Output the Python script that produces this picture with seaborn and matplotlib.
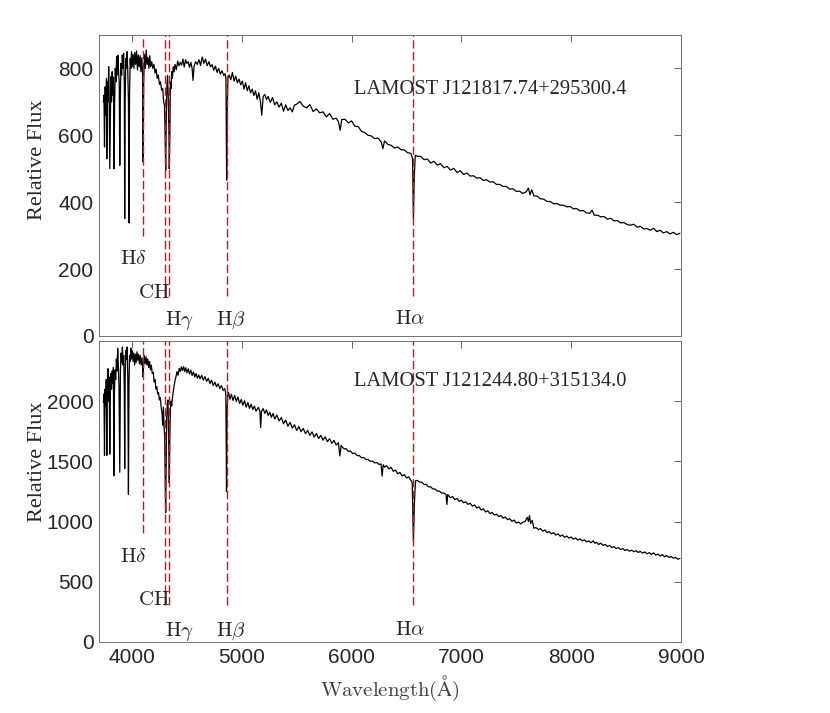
import matplotlib
matplotlib.use("Agg")
import matplotlib.pyplot as plt
import numpy as np
import pandas as pd
import seaborn as sns

# upper spectrum: LAMOST J121817.74+295300.4
wave_top = [
    3740, 3745, 3750, 3756, 3762, 3768, 3771, 3776, 3782, 3788, 3792, 3798, 3803, 3808,
    3814, 3820, 3826, 3832, 3837, 3842, 3848, 3854, 3860, 3866, 3872, 3878, 3884, 3889,
    3894, 3900, 3906, 3912, 3918, 3924, 3930, 3934, 3938, 3944, 3950, 3956, 3962, 3968,
    3973, 3978, 3984, 3990, 3996, 4002, 4010, 4018, 4026, 4034, 4042, 4050, 4058, 4066,
    4074, 4082, 4090, 4097, 4102, 4107, 4114, 4122, 4130, 4138, 4146, 4154, 4162, 4170,
    4180, 4190, 4200, 4210, 4220, 4230, 4240, 4250, 4260, 4270, 4280, 4288, 4296, 4302,
    4307, 4312, 4318, 4324, 4330, 4336, 4340, 4345, 4350, 4356, 4362, 4368, 4376, 4384,
    4392, 4404, 4416, 4428, 4440, 4452, 4464, 4476, 4488, 4500, 4512, 4524, 4536, 4548,
    4556, 4566, 4580, 4595, 4610, 4625, 4640, 4655, 4670, 4685, 4700, 4715, 4730, 4745,
    4760, 4775, 4790, 4805, 4820, 4835, 4848, 4856, 4862, 4868, 4874, 4885, 4900, 4915,
    4930, 4945, 4960, 4975, 4990, 5005, 5020, 5035, 5050, 5065, 5080, 5095, 5110, 5125,
    5140, 5155, 5170, 5182, 5195, 5210, 5225, 5240, 5260, 5280, 5300, 5320, 5340, 5360,
    5380, 5400, 5420, 5440, 5460, 5480, 5500, 5530, 5560, 5590, 5620, 5650, 5680, 5710,
    5740, 5770, 5800, 5830, 5860, 5880, 5896, 5910, 5940, 5970, 6000, 6030, 6060, 6090,
    6120, 6150, 6180, 6210, 6240, 6270, 6285, 6300, 6330, 6360, 6390, 6420, 6450, 6480,
    6510, 6540, 6555, 6563, 6570, 6580, 6600, 6630, 6660, 6690, 6720, 6750, 6780, 6810,
    6840, 6870, 6900, 6930, 6960, 6990, 7020, 7050, 7080, 7110, 7140, 7170, 7200, 7230,
    7260, 7290, 7320, 7350, 7380, 7410, 7440, 7470, 7500, 7530, 7560, 7590, 7610, 7625,
    7640, 7660, 7690, 7720, 7750, 7780, 7810, 7840, 7870, 7900, 7930, 7960, 7990, 8020,
    8050, 8080, 8110, 8140, 8170, 8190, 8210, 8240, 8270, 8300, 8330, 8360, 8390, 8420,
    8450, 8480, 8510, 8540, 8570, 8600, 8630, 8660, 8690, 8720, 8750, 8780, 8810, 8840,
    8870, 8900, 8930, 8960, 8990,
]
flux_top = [
    700, 720, 565, 745, 660, 770, 530, 760, 700, 805, 720, 500, 640, 775,
    700, 790, 720, 774, 500, 690, 800, 760, 835, 780, 839, 790, 760, 510,
    700, 815, 780, 840, 800, 845, 760, 351, 700, 830, 800, 850, 790, 700,
    338, 720, 830, 800, 850, 805, 842, 800, 848, 812, 852, 795, 840, 805,
    838, 790, 832, 780, 520, 760, 842, 800, 855, 812, 832, 800, 838, 805,
    820, 800, 812, 786, 798, 770, 780, 752, 760, 735, 740, 700, 690, 600,
    495, 640, 745, 779, 720, 620, 500, 600, 759, 740, 790, 770, 805, 790,
    812, 796, 822, 808, 818, 810, 828, 804, 826, 815, 820, 803, 818, 800,
    764, 807, 820, 812, 826, 809, 834, 815, 828, 808, 820, 805, 811, 794,
    807, 788, 800, 783, 793, 779, 784, 768, 466, 680, 772, 780, 766, 788,
    762, 777, 757, 768, 751, 762, 738, 757, 733, 748, 727, 738, 719, 733,
    708, 727, 701, 660, 716, 722, 707, 716, 698, 713, 691, 700, 684, 696,
    672, 691, 674, 682, 670, 690, 693, 701, 687, 682, 692, 671, 679, 667,
    670, 655, 665, 648, 651, 641, 615, 647, 648, 637, 643, 627, 626, 612,
    608, 600, 598, 590, 592, 580, 560, 583, 573, 570, 562, 565, 557, 556,
    548, 546, 530, 352, 470, 540, 537, 537, 527, 529, 517, 522, 511, 515,
    503, 507, 496, 501, 489, 494, 483, 487, 478, 479, 472, 473, 465, 467,
    460, 461, 453, 453, 447, 447, 439, 440, 432, 433, 426, 431, 442, 422,
    437, 419, 418, 410, 409, 402, 402, 395, 396, 391, 391, 386, 387, 380,
    381, 374, 375, 368, 367, 376, 361, 361, 356, 357, 349, 352, 344, 345,
    338, 339, 333, 331, 334, 325, 328, 320, 321, 316, 322, 312, 316, 308,
    312, 305, 310, 303, 307,
]

# lower spectrum: LAMOST J121244.80+315134.0
wave_bot = [
    3740, 3745, 3750, 3755, 3760, 3766, 3771, 3776, 3782, 3788, 3793, 3798, 3803, 3808,
    3814, 3820, 3826, 3831, 3835, 3840, 3846, 3852, 3858, 3864, 3870, 3876, 3882, 3889,
    3895, 3901, 3907, 3913, 3919, 3925, 3930, 3934, 3938, 3944, 3950, 3956, 3962, 3968,
    3973, 3978, 3984, 3990, 3996, 4003, 4010, 4017, 4024, 4031, 4038, 4045, 4052, 4060,
    4068, 4076, 4084, 4092, 4098, 4102, 4106, 4112, 4120, 4128, 4136, 4144, 4152, 4160,
    4168, 4176, 4185, 4194, 4202, 4210, 4218, 4226, 4234, 4242, 4250, 4258, 4266, 4274,
    4280, 4286, 4292, 4298, 4303, 4307, 4311, 4316, 4322, 4328, 4334, 4340, 4345, 4350,
    4356, 4362, 4368, 4376, 4384, 4392, 4400, 4410, 4420, 4430, 4440, 4450, 4460, 4470,
    4480, 4490, 4500, 4512, 4524, 4536, 4548, 4560, 4572, 4584, 4596, 4608, 4620, 4635,
    4650, 4665, 4680, 4695, 4710, 4725, 4740, 4755, 4770, 4785, 4800, 4815, 4830, 4845,
    4855, 4861, 4866, 4872, 4880, 4892, 4905, 4920, 4935, 4950, 4965, 4980, 4995, 5010,
    5025, 5040, 5055, 5070, 5085, 5100, 5115, 5130, 5150, 5165, 5172, 5180, 5195, 5210,
    5225, 5240, 5255, 5270, 5285, 5300, 5320, 5340, 5360, 5380, 5400, 5420, 5440, 5460,
    5480, 5500, 5520, 5540, 5560, 5580, 5600, 5620, 5640, 5660, 5680, 5700, 5720, 5740,
    5760, 5780, 5800, 5820, 5840, 5860, 5880, 5893, 5905, 5920, 5935, 5950, 5970, 5990,
    6010, 6030, 6050, 6070, 6090, 6110, 6130, 6150, 6170, 6190, 6210, 6230, 6250, 6268,
    6278, 6288, 6300, 6320, 6340, 6360, 6380, 6400, 6420, 6440, 6460, 6480, 6500, 6520,
    6540, 6552, 6563, 6572, 6582, 6600, 6620, 6640, 6660, 6680, 6700, 6720, 6740, 6760,
    6780, 6800, 6820, 6840, 6860, 6868, 6876, 6900, 6920, 6940, 6960, 6980, 7000, 7020,
    7040, 7060, 7080, 7100, 7120, 7140, 7160, 7180, 7200, 7220, 7240, 7260, 7280, 7300,
    7320, 7340, 7360, 7380, 7400, 7420, 7440, 7460, 7480, 7500, 7520, 7540, 7560, 7580,
    7600, 7610, 7620, 7630, 7645, 7660, 7680, 7700, 7720, 7740, 7760, 7780, 7800, 7820,
    7840, 7860, 7880, 7900, 7920, 7940, 7960, 7980, 8000, 8020, 8040, 8060, 8080, 8100,
    8120, 8140, 8160, 8180, 8200, 8215, 8230, 8250, 8270, 8290, 8310, 8330, 8350, 8370,
    8390, 8410, 8430, 8450, 8470, 8490, 8510, 8530, 8550, 8570, 8590, 8610, 8630, 8650,
    8670, 8690, 8710, 8730, 8750, 8770, 8790, 8810, 8830, 8850, 8870, 8890, 8910, 8930,
    8950, 8970, 8990,
]
flux_bot = [
    1990, 2060, 1550, 2100, 1960, 2180, 1550, 2150, 2270, 2000, 2200, 1560, 2050, 2230,
    2100, 2250, 2150, 2280, 1380, 2050, 2260, 2180, 2350, 2250, 2440, 2300, 2120, 1410,
    2250, 2400, 2320, 2450, 2300, 2380, 2100, 1440, 2200, 2420, 2350, 2450, 2200, 1225,
    2150, 2380, 2330, 2440, 2350, 2420, 2330, 2400, 2300, 2390, 2320, 2410, 2340, 2390,
    2310, 2380, 2300, 2360, 2280, 2200, 2300, 2380, 2310, 2370, 2300, 2350, 2280, 2330,
    2260, 2300, 2230, 2240, 2160, 2180, 2100, 2120, 2060, 2070, 2010, 2030, 1950, 1900,
    1800, 1950, 1800, 1700, 1300, 1075, 1400, 1850, 1980, 2010, 1700, 1320, 1700, 1930,
    2000, 1960, 2020, 2080, 2130, 2170, 2200, 2245, 2215, 2272, 2246, 2284, 2255, 2288,
    2246, 2278, 2236, 2268, 2226, 2258, 2214, 2243, 2200, 2230, 2190, 2218, 2186, 2214,
    2175, 2204, 2164, 2190, 2146, 2174, 2130, 2158, 2120, 2144, 2104, 2130, 2090, 2104,
    2060, 1250, 1900, 2048, 2072, 2016, 2058, 2006, 2048, 1996, 2034, 1980, 2014, 1966,
    2004, 1950, 1989, 1940, 1974, 1930, 1959, 1916, 1948, 1918, 1780, 1917, 1938, 1898,
    1928, 1882, 1908, 1866, 1898, 1852, 1884, 1836, 1864, 1812, 1844, 1792, 1824, 1776,
    1804, 1756, 1789, 1746, 1774, 1730, 1758, 1716, 1744, 1702, 1731, 1690, 1716, 1676,
    1704, 1664, 1688, 1650, 1674, 1636, 1655, 1545, 1633, 1614, 1603, 1606, 1583, 1586,
    1565, 1568, 1548, 1548, 1531, 1532, 1515, 1516, 1501, 1502, 1488, 1490, 1475, 1478,
    1378, 1472, 1452, 1464, 1437, 1450, 1417, 1428, 1397, 1408, 1379, 1390, 1362, 1372,
    1343, 1325, 835, 1150, 1338, 1342, 1328, 1327, 1308, 1309, 1288, 1289, 1271, 1271,
    1253, 1253, 1237, 1237, 1225, 1142, 1224, 1198, 1208, 1183, 1192, 1168, 1178, 1156,
    1164, 1143, 1152, 1128, 1138, 1113, 1122, 1096, 1106, 1080, 1090, 1066, 1076, 1054,
    1062, 1042, 1050, 1028, 1038, 1016, 1024, 1002, 1012, 988, 996, 980, 995, 1000,
    1035, 1000, 1050, 985, 1010, 945, 950, 933, 942, 920, 930, 908, 917, 898,
    908, 888, 898, 878, 888, 870, 880, 862, 872, 854, 864, 846, 856, 840,
    848, 832, 840, 824, 840, 820, 828, 810, 820, 802, 810, 793, 802, 784,
    792, 776, 784, 768, 776, 760, 768, 754, 762, 750, 758, 744, 752, 738,
    748, 732, 742, 728, 740, 722, 730, 714, 726, 708, 718, 702, 710, 696,
    702, 688, 694,
]

line_names = [r"$\mathrm{H}\delta$", r"$\mathrm{CH}$", r"$\mathrm{H}\gamma$",
              r"$\mathrm{H}\beta$", r"$\mathrm{H}\alpha$"]
line_waves = [4102, 4300, 4340, 4861, 6563]
star_names = ["LAMOST J121817.74+295300.4", "LAMOST J121244.80+315134.0"]

sns.set_style("white")
plt.rcParams["font.family"] = ["Liberation Sans", "DejaVu Sans"]
plt.rcParams["mathtext.fontset"] = "cm"

fig = plt.figure(figsize=(8.3, 7.13), dpi=100)
ax_top = fig.add_axes([0.1193, 0.5288, 0.7012, 0.4222])
ax_bot = fig.add_axes([0.1193, 0.0996, 0.7012, 0.4222])

panels = [
    # ax, wave, flux, ylim, yticks, line bottoms, label (x, y) baselines, name y, ylabel y
    (ax_top, wave_top, flux_top, 900, np.arange(0, 801, 200),
     [300, 120, 120, 120, 120],
     [(4013, 215), (4199, 114), (4431, 34), (4898, 34), (6535, 36)], 722, 0.585),
    (ax_bot, wave_bot, flux_bot, 2500, np.arange(0, 2001, 500),
     [908, 308, 308, 308, 308],
     [(4013, 661), (4199, 308), (4431, 52), (4898, 52), (6535, 56)], 2128, 0.598),
]

for i, (ax, wave, flux, ytop, yticks, lbot, lpos, name_y, ylab_y) in enumerate(panels):
    df = pd.DataFrame({"wave": wave, "flux": flux})
    sns.lineplot(data=df, x="wave", y="flux", ax=ax, color="black",
                 lw=0.9, estimator=None, sort=False, zorder=2)
    ax.vlines(line_waves, lbot, ytop, colors="red", linestyles=(0, (6, 2.5)),
              lw=1.0, zorder=3)
    for name, (lx, ly) in zip(line_names, lpos):
        ax.text(lx, ly, name, ha="center", va="baseline", fontsize=15)
    ax.text(7261, name_y, star_names[i], ha="center", va="baseline",
            fontsize=14.8, family="Liberation Serif")

    ax.set_xlim(3700, 9000)
    ax.set_ylim(0, ytop)
    ax.set_xticks(np.arange(4000, 9001, 1000))
    ax.set_yticks(yticks)
    ax.tick_params(direction="in", top=True, right=True, length=5, width=0.6,
                   color="0.3", labelsize=15, labelcolor="#262626", pad=4)
    for sp in ax.spines.values():
        sp.set_color("0.45")
        sp.set_linewidth(0.7)
    ax.set_ylabel("Relative Flux", fontsize=16, family="Liberation Serif",
                  va="center")
    ax.yaxis.set_label_coords(-0.105, ylab_y)
    ax.set_xlabel("")

ax_top.set_xticklabels([])
ax_bot.set_xlabel(r"$\mathrm{Wavelength}(\mathrm{\AA})$", fontsize=15,
                  color="#404040", va="center")
ax_bot.xaxis.set_label_coords(0.5, -0.153)

fig.savefig("out.png", dpi=100)
